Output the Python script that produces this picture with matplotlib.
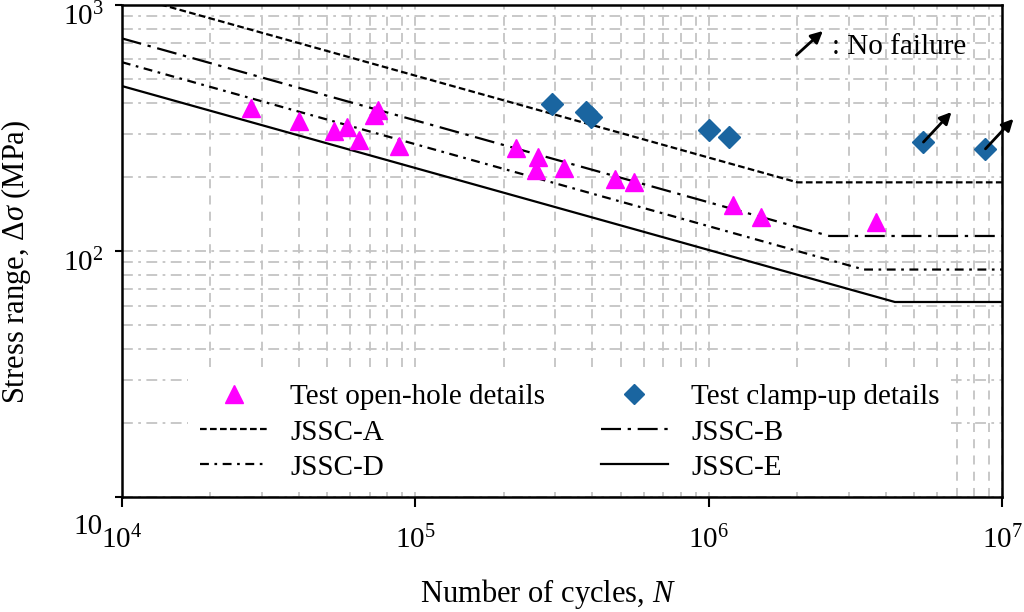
import numpy as np
import matplotlib
matplotlib.use("Agg")
import matplotlib.pyplot as plt
import matplotlib.transforms as mtransforms

plt.rcParams['font.family'] = ['Liberation Serif', 'DejaVu Serif']
plt.rcParams['mathtext.fontset'] = 'custom'
plt.rcParams['mathtext.rm'] = 'Liberation Serif'
plt.rcParams['mathtext.it'] = 'Liberation Serif:italic'

# test data
open_N = [2.75e4, 4.0e4, 5.27e4, 5.83e4, 6.45e4, 7.2e4, 7.45e4, 8.77e4,
          2.21e5, 2.61e5, 2.57e5, 3.2e5, 4.77e5, 5.54e5, 1.21e6, 1.51e6, 3.72e6]
open_S = [381, 337, 308, 319, 282, 357, 374, 267,
          262, 241, 213, 217, 196, 191, 154, 137, 131]

clamp_N = [2.91e5, 3.8e5, 3.98e5, 1.0e6, 1.17e6, 5.38e6, 8.75e6]
clamp_S = [396, 367, 351, 310, 291, 277, 260]
runout = [False, False, False, False, False, True, True]

# design curves (vertices)
jssc_a_N = [1e4, 2.0e6, 1e7]
jssc_a_S = [1111, 190, 190]
jssc_b_N = [1e4, 2.57e6, 1e7]
jssc_b_S = [731, 115, 115]
jssc_d_N = [1e4, 3.37e6, 1e7]
jssc_d_S = [585, 84, 84]
jssc_e_N = [1e4, 4.3e6, 1e7]
jssc_e_S = [468, 62, 62]

FS = 21

fig = plt.figure(figsize=(10.24, 6.12), dpi=100)
ax = fig.add_axes([0.119, 0.188, 0.860, 0.804])

ax.set_xscale('log')
ax.set_yscale('log')
ax.set_xlim(1e4, 1e7)
ax.set_ylim(10, 1000)

ax.grid(True, which='both', axis='x', color='#c4c4c4', linestyle=(0, (5, 4)), linewidth=1.3)
ax.grid(True, which='both', axis='y', color='#c4c4c4', linestyle=(0, (6, 3, 1.5, 3)), linewidth=1.3)
ax.set_axisbelow(True)

la, = ax.plot(jssc_a_N, jssc_a_S, color='black', lw=1.6, linestyle=(0, (3, 1.5)), label='JSSC-A')
lb, = ax.plot(jssc_b_N, jssc_b_S, color='black', lw=1.6, linestyle=(0, (9, 3, 1.5, 3)), label='JSSC-B')
ld, = ax.plot(jssc_d_N, jssc_d_S, color='black', lw=1.6, linestyle=(0, (4, 2.5, 1.2, 2.5)), label='JSSC-D')
le, = ax.plot(jssc_e_N, jssc_e_S, color='black', lw=1.6, linestyle='-', label='JSSC-E')

po, = ax.plot(open_N, open_S, linestyle='none', marker='^', markersize=13, color='#ff00ff',
              label='Test open-hole details', zorder=4)
pc, = ax.plot(clamp_N, clamp_S, linestyle='none', marker='D', markersize=11, color='#1a65a0',
              label='Test clamp-up details', zorder=4)

# arrows for run-out specimens
for n, s, r in zip(clamp_N, clamp_S, runout):
    if r:
        tip = mtransforms.offset_copy(ax.transData, fig=fig, x=28, y=30, units='dots')
        ax.annotate('', xy=(n, s), xycoords=tip, xytext=(n, s), textcoords='data',
                    arrowprops=dict(arrowstyle='-|>,head_length=0.7,head_width=0.35',
                                    color='black', lw=2, shrinkA=0, shrinkB=0),
                    annotation_clip=False, zorder=5)

ax.annotate('', xy=(0.796, 0.947), xytext=(0.766, 0.898), xycoords='axes fraction',
            arrowprops=dict(arrowstyle='-|>,head_length=0.7,head_width=0.35',
                            color='black', lw=2, shrinkA=0, shrinkB=0))
ax.text(0.806, 0.915, ': No failure', transform=ax.transAxes, fontsize=FS,
        ha='left', va='center')

leg = ax.legend(handles=[po, la, ld, pc, lb, le], ncol=2, fontsize=FS,
                loc='upper left', bbox_to_anchor=(0.059, 0.283),
                handlelength=2.3, handletextpad=0.8, columnspacing=1.9,
                labelspacing=0.3, borderpad=0.4, markerscale=0.95,
                frameon=True, fancybox=False, framealpha=1, edgecolor='none')

ax.set_yticks([10, 100, 1000])
ax.set_yticklabels(['', r'$10^2$', r'$10^3$'])
ax.yaxis.set_minor_formatter(plt.NullFormatter())
ax.xaxis.set_minor_formatter(plt.NullFormatter())
ax.text(-0.022, -0.061, '10', transform=ax.transAxes, fontsize=FS, ha='right', va='center')

ax.tick_params(axis='both', which='major', direction='out', labelsize=FS, width=1.5)
ax.tick_params(axis='x', which='major', length=7, pad=14)
ax.tick_params(axis='y', which='major', length=5, pad=8)
ax.tick_params(which='minor', length=0)
for sp in ax.spines.values():
    sp.set_linewidth(1.8)

# y tick labels sit a little below their ticks in the reference
shift = mtransforms.ScaledTranslation(0, -9 / 100, fig.dpi_scale_trans)
for lab in ax.get_yticklabels():
    lab.set_transform(lab.get_transform() + shift)

ax.set_xlabel('Number of cycles, $\\it{N}$', fontsize=FS + 1)
ax.set_ylabel('Stress range, $\\Delta\\sigma$ (MPa)', fontsize=FS + 1)
ax.xaxis.set_label_coords(0.4835, -0.162)
ax.yaxis.set_label_coords(-0.101, 0.478)

fig.savefig('out.png', dpi=100)
